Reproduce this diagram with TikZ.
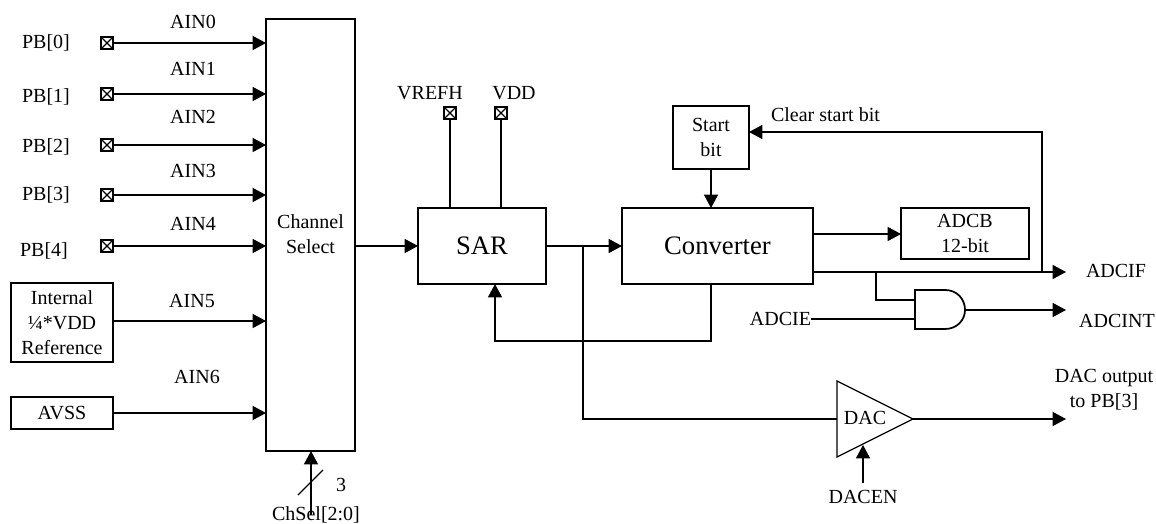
\documentclass[tikz,border=0pt]{standalone}
\usepackage{fontspec}
\setmainfont{Liberation Serif}
\usetikzlibrary{arrows.meta,calc}
\tikzset{
  x=0.75pt,y=-0.75pt,
  every node/.style={font=\fontsize{15}{18}\selectfont,inner sep=0pt,outer sep=0pt},
  wire/.style={line width=0.95pt,black},
  arr/.style={wire,-{Triangle[length=10pt,width=10.5pt]}},
  blk/.style={draw=black,line width=0.95pt,fill=white,align=center},
  pin/.style={draw=black,line width=1.4pt,minimum width=9.5pt,minimum height=9.5pt,fill=white,
    path picture={\draw[line width=0.9pt] (path picture bounding box.north west)--(path picture bounding box.south east)
    (path picture bounding box.north east)--(path picture bounding box.south west);}},
  big/.style={font=\fontsize{20}{24}\selectfont},
}
\begin{document}
\begin{tikzpicture}
\useasboundingbox (0,0) rectangle (1156,524);
% blocks
\node[blk,minimum width=66.75pt,minimum height=324pt] (chan) at (310.5,235) {};
\node (chantxt) [align=center] at (310.5,234) {Channel\\[1pt]Select};
\node[blk,minimum width=96pt,minimum height=57pt,big] (sar) at (482,246) {SAR};
\node[blk,minimum width=143.25pt,minimum height=57pt,big] (conv) at (717.5,246) {Converter};
\node[blk,minimum width=57pt,minimum height=47.25pt] (start) at (711,137.5) {Start\\[1pt]bit};
\node[blk,minimum width=96pt,minimum height=38.25pt] (adcb) at (965,233.5) {ADCB\\[1pt]12-bit};
\node[blk,minimum width=76.5pt,minimum height=59.25pt] (int) at (62,322.5) {Internal\\[1pt]¼*VDD\\[1pt]Reference};
\node[blk,minimum width=76.5pt,minimum height=24pt] (avss) at (62,413) {AVSS};
% pins
\foreach \n/\y/\lx/\ly/\tx/\ty in {0/43/46/43/193/22,1/94/46/97/193/69,2/145/46/147/193/117,3/195/46/195/193/171,4/246/44/251/193/224}{
  \node[pin] (p\n) at (107,\y) {};
  \node (pl\n) at (\lx,\ly) {PB[\n]};
  \node (al\n) at (\tx,\ty) {AIN\n};
  \draw[arr] (p\n) -- (chan.west |- p\n);
}
\node (al5) at (192,301) {AIN5};
\node (al6) at (197,377) {AIN6};
\coordinate (ia) at (113,321);
\draw[arr] (ia) -- (chan.west |- ia);
\draw[arr] (avss) -- (chan.west |- avss);
% chsel
\node (chsel) at (316,515) {ChSel[2:0]};
\node (three) at (341,485) {3};
\coordinate (cs) at (311,515);
\draw[arr] (cs) -- (chan.south -| cs);
\coordinate (sla) at (298,495); \coordinate (slb) at (323,470);
\draw[wire] (sla) -- (slb);
% SAR
\draw[arr] (chan.east |- sar.west) -- (sar.west);
\node[pin] (vr) at (450,113) {};
\node[pin] (vd) at (501,113) {};
\node (vrl) at (430,93) {VREFH};
\node (vdl) at (514,93) {VDD};
\draw[wire] (vr) -- (sar.north -| vr);
\draw[wire] (vd) -- (sar.north -| vd);
\draw[arr] (sar.east) -- (conv.west);
\draw[arr] (start) -- (conv.north -| start);
\coordinate (fb) at (495,341);
\draw[arr] (conv.south -| start) |- (fb) -- (sar.south -| fb);
% ADCB / flags
\coordinate (cb) at (813,234);
\draw[arr] (cb) -- (adcb.west |- cb);
\coordinate (fl) at (813,272);
\coordinate (flend) at (1066,272);
\node (adcif) at (1116,271) {ADCIF};
\draw[arr] (fl) -- (flend);
\coordinate (clr) at (1042,272);
\draw[arr] (clr) |- (start.east |- 0,132);
\node (clrl) [anchor=west] at (771,115) {Clear start bit};
% AND
\coordinate (g1) at (915,300); \coordinate (g2) at (915,319);
\coordinate (gout) at (966,310);
\draw[line width=1.3pt,black,fill=white] (915,290) -- (945,290) .. controls (957,290) and (965,299) .. (965,310) .. controls (965,320) and (957,329) .. (945,329) -- (915,329) -- cycle;
\coordinate (br) at (876,272);
\draw[wire] (br) |- (g1);
\node (adcie) [anchor=east] at (811,319) {ADCIE};
\draw[wire] (adcie.east) -- (g2);
\draw[line width=1.5pt,black] (903,300) -- (g1) (903,319) -- (g2) (gout) -- (979,310);
\coordinate (aend) at (1066,310);
\draw[arr] (gout) -- (aend);
\node (adcint) at (1117,321) {ADCINT};
% DAC
\coordinate (di) at (837,419); \coordinate (dt) at (913,419);
\draw[line width=0.95pt,black,fill=white] (837,381) -- (dt) -- (837,457) -- cycle;
\node (dacl) at (865,418) {DAC};
\draw[wire] (583,246) -- (583,419) -- (di);
\coordinate (dend) at (1066,419);
\draw[arr] (dt) -- (dend);
\coordinate (en) at (863,483); \coordinate (ent) at (863,445);
\draw[arr] (en) -- (ent);
\node (dacen) at (863,497) {DACEN};
\node (dacout) [align=center] at (1104,389.5) {DAC output\\[1pt]to PB[3]};
\end{tikzpicture}
\end{document}
